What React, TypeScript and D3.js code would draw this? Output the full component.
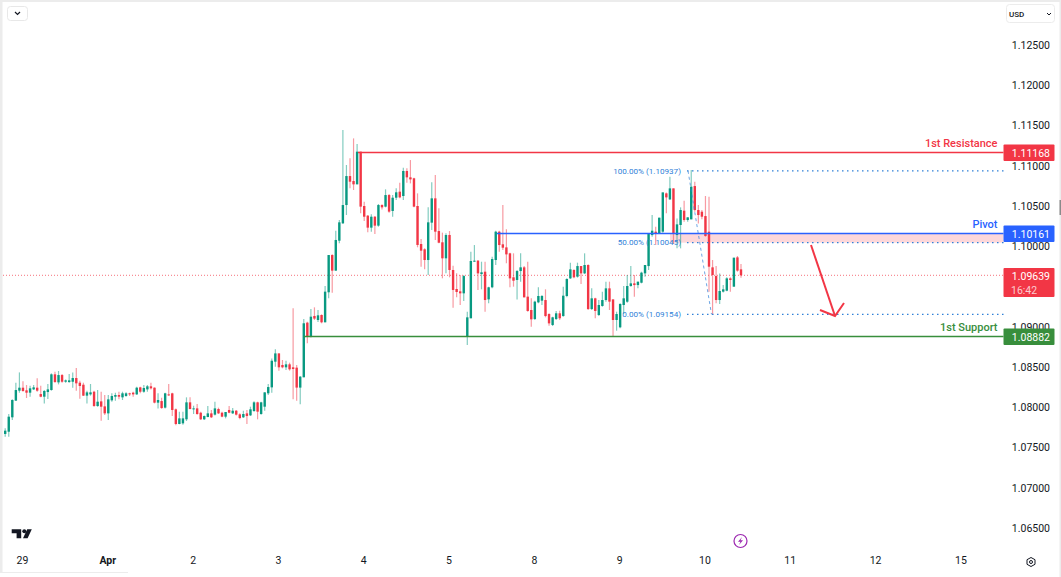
import * as d3 from "d3";
import { useRef, useEffect } from "react";

const width = 1061;
const height = 577;

// hourly candles
const opens = [
  1.07668, 1.07696, 1.07875, 1.08082, 1.08206, 1.08243, 1.08210, 1.08181, 1.08222, 1.08243,
  1.08164, 1.08131, 1.08189, 1.08214, 1.08409, 1.08309, 1.08400, 1.08317, 1.08313, 1.08317,
  1.08363, 1.08305, 1.08280, 1.08144, 1.08160, 1.08193, 1.08015, 1.08073, 1.08011, 1.07924,
  1.08086, 1.08131, 1.08152, 1.08123, 1.08140, 1.08173, 1.08181, 1.08160, 1.08247, 1.08193,
  1.08222, 1.08260, 1.08243, 1.08057, 1.08077, 1.07995, 1.08160, 1.08173, 1.07974, 1.07792,
  1.07800, 1.07850, 1.08061, 1.07974, 1.07986, 1.07932, 1.07850, 1.07879, 1.07924, 1.07908,
  1.07978, 1.07932, 1.07883, 1.07966, 1.07924, 1.07957, 1.07912, 1.07875, 1.07924, 1.07899,
  1.07953, 1.08061, 1.07916, 1.08007, 1.08173, 1.08247, 1.08566, 1.08669, 1.08525, 1.08496,
  1.08533, 1.08496, 1.08492, 1.08244, 1.08372, 1.09051, 1.08877, 1.09134, 1.09084, 1.09146,
  1.09055, 1.09428, 1.09891, 1.09697, 1.10069, 1.10285, 1.10512, 1.10872, 1.10810, 1.10769,
  1.11175, 1.10500, 1.10380, 1.10231, 1.10367, 1.10256, 1.10512, 1.10492, 1.10636, 1.10438,
  1.10603, 1.10678, 1.10624, 1.10935, 1.10856, 1.10844, 1.10500, 1.10028, 1.09962, 1.09829,
  1.10293, 1.10595, 1.10189, 1.10049, 1.09850, 1.10140, 1.09705, 1.09469, 1.09440, 1.09415,
  1.08885, 1.09105, 1.09808, 1.09821, 1.09655, 1.09684, 1.09340, 1.09490, 1.09829, 1.10181,
  1.10024, 1.09986, 1.09912, 1.09614, 1.09581, 1.09692, 1.09738, 1.09374, 1.09208, 1.09096,
  1.09303, 1.09324, 1.09332, 1.09158, 1.09022, 1.09096, 1.09167, 1.09133, 1.09382, 1.09601,
  1.09705, 1.09622, 1.09754, 1.09663, 1.09767, 1.09220, 1.09353, 1.09146, 1.09258, 1.09332,
  1.09477, 1.09340, 1.09084, 1.08993, 1.09270, 1.09311, 1.09506, 1.09539, 1.09518, 1.09547,
  1.09663, 1.09754, 1.10139, 1.10181, 1.10160, 1.10181, 1.10657, 1.10582, 1.10719, 1.10139,
  1.10264, 1.10442, 1.10326, 1.10334, 1.10748, 1.10450, 1.10429, 1.10375, 1.10181, 1.09738,
  1.09630, 1.09332, 1.09436, 1.09448, 1.09601, 1.09498, 1.09862, 1.09713,
];

const highs = [
  1.07738, 1.07916, 1.08098, 1.08305, 1.08433, 1.08322, 1.08276, 1.08268, 1.08276, 1.08359,
  1.08268, 1.08214, 1.08289, 1.08421, 1.08442, 1.08450, 1.08413, 1.08346, 1.08413, 1.08433,
  1.08487, 1.08330, 1.08305, 1.08206, 1.08289, 1.08206, 1.08214, 1.08193, 1.08152, 1.08152,
  1.08173, 1.08181, 1.08193, 1.08193, 1.08185, 1.08181, 1.08193, 1.08255, 1.08255, 1.08276,
  1.08276, 1.08305, 1.08247, 1.08173, 1.08119, 1.08181, 1.08289, 1.08181, 1.07986, 1.07945,
  1.07945, 1.08123, 1.08123, 1.08019, 1.08040, 1.07945, 1.07899, 1.08015, 1.07966, 1.08069,
  1.07995, 1.07945, 1.07941, 1.08015, 1.07990, 1.07966, 1.07924, 1.07957, 1.07966, 1.08007,
  1.08073, 1.08069, 1.08069, 1.08185, 1.08289, 1.08607, 1.08719, 1.08669, 1.08587, 1.08579,
  1.08554, 1.09229, 1.08525, 1.08388, 1.09096, 1.09063, 1.09221, 1.09241, 1.09208, 1.09154,
  1.09506, 1.09891, 1.09900, 1.10194, 1.10326, 1.11444, 1.11009, 1.11092, 1.11340, 1.11270,
  1.11175, 1.10554, 1.10388, 1.10396, 1.10376, 1.10525, 1.10521, 1.10707, 1.10649, 1.10636,
  1.10719, 1.10790, 1.10976, 1.10968, 1.11071, 1.10852, 1.10657, 1.10090, 1.09974, 1.10483,
  1.10794, 1.10885, 1.10471, 1.10169, 1.10160, 1.10189, 1.09759, 1.09664, 1.09643, 1.09643,
  1.09187, 1.09933, 1.10015, 1.09829, 1.09808, 1.09808, 1.09498, 1.09870, 1.10193, 1.10193,
  1.10512, 1.10210, 1.09920, 1.09912, 1.09705, 1.09912, 1.09754, 1.09808, 1.09353, 1.09324,
  1.09490, 1.09394, 1.09465, 1.09167, 1.09125, 1.09196, 1.09200, 1.09498, 1.09601, 1.09796,
  1.09713, 1.09796, 1.09754, 1.09912, 1.09775, 1.09477, 1.09361, 1.09332, 1.09436, 1.09560,
  1.09560, 1.09340, 1.09187, 1.09291, 1.09506, 1.09643, 1.09754, 1.09643, 1.09560, 1.09684,
  1.09767, 1.10152, 1.10388, 1.10243, 1.10355, 1.10669, 1.10669, 1.10864, 1.10719, 1.10346,
  1.10483, 1.10566, 1.10359, 1.10947, 1.10802, 1.10512, 1.10450, 1.10624, 1.10615, 1.09829,
  1.09754, 1.09663, 1.09519, 1.09614, 1.09614, 1.09858, 1.09879, 1.09779,
];

const lows = [
  1.07634, 1.07634, 1.07841, 1.08082, 1.08181, 1.08193, 1.08115, 1.08131, 1.08214, 1.08193,
  1.08123, 1.08048, 1.08102, 1.08206, 1.08305, 1.08284, 1.08305, 1.08305, 1.08305, 1.08243,
  1.08206, 1.08106, 1.08140, 1.08048, 1.08144, 1.08007, 1.08007, 1.07833, 1.07904, 1.07841,
  1.08069, 1.08082, 1.08098, 1.08090, 1.08131, 1.08140, 1.08131, 1.08152, 1.08173, 1.08181,
  1.08193, 1.08222, 1.08048, 1.07986, 1.07982, 1.07986, 1.08140, 1.07891, 1.07775, 1.07788,
  1.07783, 1.07829, 1.07974, 1.07916, 1.07908, 1.07841, 1.07841, 1.07875, 1.07866, 1.07899,
  1.07916, 1.07875, 1.07862, 1.07924, 1.07916, 1.07899, 1.07850, 1.07866, 1.07792, 1.07891,
  1.07945, 1.07850, 1.07908, 1.07957, 1.08152, 1.08181, 1.08504, 1.08454, 1.08484, 1.08463,
  1.08455, 1.08099, 1.08082, 1.08037, 1.08372, 1.08794, 1.08865, 1.09084, 1.09059, 1.09043,
  1.09055, 1.09353, 1.09423, 1.09697, 1.10036, 1.10276, 1.10388, 1.10719, 1.10699, 1.10769,
  1.10409, 1.10314, 1.10173, 1.10181, 1.10152, 1.10243, 1.10458, 1.10483, 1.10417, 1.10367,
  1.10574, 1.10595, 1.10574, 1.10790, 1.10781, 1.10483, 1.09987, 1.09746, 1.09713, 1.09643,
  1.10202, 1.10078, 1.10036, 1.09602, 1.09664, 1.09614, 1.09237, 1.09365, 1.09270, 1.09320,
  1.08773, 1.09105, 1.09808, 1.09456, 1.09465, 1.09187, 1.09291, 1.09477, 1.09767, 1.09933,
  1.09953, 1.09788, 1.09490, 1.09498, 1.09340, 1.09560, 1.09365, 1.09187, 1.09001, 1.09084,
  1.09291, 1.09270, 1.09117, 1.09013, 1.09009, 1.09084, 1.09084, 1.09125, 1.09365, 1.09593,
  1.09601, 1.09610, 1.09531, 1.09655, 1.09208, 1.09208, 1.09105, 1.09133, 1.09249, 1.09312,
  1.09208, 1.08877, 1.08951, 1.08980, 1.09158, 1.09299, 1.09498, 1.09374, 1.09477, 1.09539,
  1.09622, 1.09705, 1.10119, 1.10015, 1.10160, 1.10168, 1.10409, 1.10574, 1.10028, 1.09974,
  1.09974, 1.10305, 1.10305, 1.10334, 1.10429, 1.10284, 1.10334, 1.10119, 1.09436, 1.09146,
  1.09291, 1.09283, 1.09427, 1.09440, 1.09436, 1.09498, 1.09684, 1.09610,
];

const closes = [
  1.07709, 1.07883, 1.08090, 1.08214, 1.08243, 1.08202, 1.08181, 1.08235, 1.08247, 1.08206,
  1.08131, 1.08202, 1.08222, 1.08409, 1.08313, 1.08400, 1.08317, 1.08334, 1.08334, 1.08363,
  1.08297, 1.08264, 1.08144, 1.08185, 1.08185, 1.08015, 1.08069, 1.08007, 1.07924, 1.08098,
  1.08140, 1.08152, 1.08131, 1.08173, 1.08173, 1.08160, 1.08160, 1.08243, 1.08193, 1.08239,
  1.08260, 1.08235, 1.08057, 1.08090, 1.07990, 1.08173, 1.08148, 1.07966, 1.07792, 1.07862,
  1.07862, 1.08061, 1.07978, 1.07986, 1.07916, 1.07850, 1.07891, 1.07924, 1.07875, 1.07986,
  1.07924, 1.07883, 1.07941, 1.07932, 1.07957, 1.07908, 1.07866, 1.07916, 1.07891, 1.07974,
  1.08061, 1.07945, 1.08061, 1.08185, 1.08251, 1.08578, 1.08669, 1.08496, 1.08496, 1.08533,
  1.08471, 1.08475, 1.08244, 1.08380, 1.09043, 1.08877, 1.09125, 1.09101, 1.09142, 1.09055,
  1.09436, 1.09891, 1.09697, 1.10078, 1.10297, 1.10512, 1.10872, 1.10802, 1.10769, 1.11175,
  1.10492, 1.10367, 1.10231, 1.10367, 1.10256, 1.10512, 1.10483, 1.10636, 1.10430, 1.10603,
  1.10670, 1.10607, 1.10935, 1.10856, 1.10831, 1.10492, 1.10016, 1.09945, 1.09829, 1.10297,
  1.10595, 1.10181, 1.10044, 1.09850, 1.10140, 1.09705, 1.09457, 1.09432, 1.09415, 1.09630,
  1.09117, 1.09817, 1.09821, 1.09663, 1.09676, 1.09332, 1.09490, 1.09841, 1.10181, 1.10015,
  1.09982, 1.09899, 1.09601, 1.09572, 1.09692, 1.09738, 1.09365, 1.09196, 1.09092, 1.09312,
  1.09382, 1.09382, 1.09133, 1.09042, 1.09117, 1.09167, 1.09105, 1.09386, 1.09593, 1.09713,
  1.09614, 1.09754, 1.09663, 1.09767, 1.09220, 1.09353, 1.09196, 1.09270, 1.09332, 1.09477,
  1.09312, 1.09084, 1.09158, 1.09283, 1.09353, 1.09506, 1.09539, 1.09518, 1.09560, 1.09672,
  1.09767, 1.10152, 1.10193, 1.10152, 1.10355, 1.10669, 1.10607, 1.10719, 1.10152, 1.10272,
  1.10450, 1.10326, 1.10359, 1.10740, 1.10450, 1.10388, 1.10367, 1.10127, 1.09746, 1.09643,
  1.09332, 1.09444, 1.09465, 1.09601, 1.09581, 1.09858, 1.09697, 1.09639,
];

// 1.09500 sits fully behind the last price badge in the picture
const priceTicks = [
  1.125, 1.12, 1.115, 1.11, 1.105, 1.1, 1.09, 1.085, 1.08, 1.075, 1.07, 1.065,
];

const dayLabels = ["29", "Apr", "2", "3", "4", "5", "8", "9", "10", "11", "12", "15"];
const dayIndex = [5, 29, 53, 77, 101, 125, 149, 173, 197, 221, 245, 269];

const resistance = 1.11168;
const pivot = 1.10161;
const support = 1.08882;
const lastPrice = 1.09639;
const fibLevels = [
  { label: "100.00% (1.10937)", value: 1.10937 },
  { label: "50.00% (1.10045)", value: 1.10045 },
  { label: "0.00% (1.09154)", value: 1.09154 },
];

const GREEN = "#089981";
const RED = "#f23645";
const BLUE = "#2962ff";
const LEVEL_GREEN = "#388e3c";
const FIB = "#2f80d8";
const FONT = "Roboto, 'Noto Sans', sans-serif";

export default function App() {
  const svgRef = useRef<SVGSVGElement>(null);

  useEffect(() => {
    const svg = d3.select(svgRef.current);
    svg.selectAll("*").remove();

    const x = d3.scaleLinear().domain([0, 207]).range([5.2, 741]);
    const y = d3.scaleLinear().domain([1.125, 1.065]).range([45, 528]);
    const axisRight = 1003.5;

    svg.attr("width", width).attr("height", height).attr("viewBox", [0, 0, width, height]);
    svg.append("rect").attr("width", width).attr("height", height).attr("fill", "#fff");

    // pane borders of the screenshot
    const frame = svg.append("g").attr("fill", "#ececec");
    frame.append("rect").attr("width", 2.5).attr("height", 572);
    frame.append("rect").attr("width", width).attr("height", 2);
    frame.append("rect").attr("x", width - 1.5).attr("width", 1.5).attr("height", height);
    frame.append("rect").attr("y", 572).attr("width", 128).attr("height", 1);
    svg.append("rect")
      .attr("x", 1059.5).attr("y", 200).attr("width", 1.5).attr("height", 15)
      .attr("fill", "#8a8a8a");

    // pink zone between pivot and the 50% fib
    svg.append("rect")
      .attr("x", 670)
      .attr("y", y(pivot))
      .attr("width", axisRight - 670)
      .attr("height", y(fibLevels[1].value) - y(pivot))
      .attr("fill", RED)
      .attr("fill-opacity", 0.2);

    // last price line
    svg.append("line")
      .attr("x1", 3).attr("x2", axisRight)
      .attr("y1", y(lastPrice)).attr("y2", y(lastPrice))
      .attr("stroke", RED).attr("stroke-opacity", 0.7)
      .attr("stroke-dasharray", "1 2");

    const idx = d3.range(opens.length);

    const candles = svg.append("g").attr("class", "candles");
    candles.selectAll("line")
      .data(idx)
      .join("line")
        .attr("x1", (i) => x(i))
        .attr("x2", (i) => x(i))
        .attr("y1", (i) => y(highs[i]))
        .attr("y2", (i) => y(lows[i]))
        .attr("stroke", (i) => (closes[i] >= opens[i] ? GREEN : RED))
        .attr("stroke-opacity", 0.5)
        .attr("stroke-width", 1.2);
    candles.selectAll("rect")
      .data(idx)
      .join("rect")
        .attr("x", (i) => x(i) - 1.2)
        .attr("width", 2.4)
        .attr("y", (i) => y(Math.max(opens[i], closes[i])))
        .attr("height", (i) => Math.max(1, Math.abs(y(opens[i]) - y(closes[i]))))
        .attr("fill", (i) => (closes[i] >= opens[i] ? GREEN : RED));

    // fib retracement
    const fib = svg.append("g").attr("class", "fib");
    fib.append("line")
      .attr("x1", 688).attr("y1", y(fibLevels[0].value))
      .attr("x2", 711.5).attr("y2", y(fibLevels[2].value))
      .attr("stroke", FIB).attr("stroke-opacity", 0.7)
      .attr("stroke-dasharray", "3 3");
    fib.selectAll("line.level")
      .data(fibLevels)
      .join("line")
        .attr("class", "level")
        .attr("x1", 687).attr("x2", axisRight)
        .attr("y1", (d) => y(d.value)).attr("y2", (d) => y(d.value))
        .attr("stroke", FIB)
        .attr("stroke-width", 1.3)
        .attr("stroke-dasharray", "1.5 3.5");
    fib.selectAll("text")
      .data(fibLevels)
      .join("text")
        .attr("x", 681)
        .attr("y", (d) => y(d.value))
        .attr("dy", "0.35em")
        .attr("text-anchor", "end")
        .attr("font-family", FONT)
        .attr("font-size", 8.1)
        .attr("fill", FIB)
        .text((d) => d.label);

    // support and resistance levels
    const levels = [
      { name: "1st Resistance", value: resistance, start: 358, color: RED, width: 1.6 },
      { name: "Pivot", value: pivot, start: 497, color: BLUE, width: 1.5 },
      { name: "1st Support", value: support, start: 304, color: LEVEL_GREEN, width: 1.5 },
    ];
    const levelG = svg.append("g").attr("class", "levels");
    levelG.selectAll("line")
      .data(levels)
      .join("line")
        .attr("x1", (d) => d.start).attr("x2", axisRight)
        .attr("y1", (d) => y(d.value) + 0.3).attr("y2", (d) => y(d.value) + 0.3)
        .attr("stroke", (d) => d.color)
        .attr("stroke-width", (d) => d.width);
    levelG.selectAll("text")
      .data(levels)
      .join("text")
        .attr("x", 997.5)
        .attr("y", (d) => y(d.value) - 5)
        .attr("text-anchor", "end")
        .attr("font-family", FONT)
        .attr("font-size", 11)
        .attr("font-weight", 500)
        .attr("fill", (d) => d.color)
        .text((d) => d.name);

    // hand drawn arrow
    svg.append("path")
      .attr("d", d3.line()([[811, 245], [835, 316]]))
      .attr("stroke", RED).attr("stroke-width", 2).attr("fill", "none");
    svg.append("path")
      .attr("d", d3.line()([[820, 310], [835, 316], [844, 303]]))
      .attr("stroke", RED).attr("stroke-width", 2).attr("fill", "none");

    // price axis
    svg.append("g")
      .attr("class", "yaxis")
      .attr("transform", `translate(1050,0)`)
      .call(d3.axisLeft(y).tickValues(priceTicks).tickFormat((d) => d3.format(".5f")(d)).tickSize(0).tickPadding(0))
      .call((g) => g.select(".domain").remove())
      .call((g) => g.selectAll("text")
        .attr("font-family", FONT)
        .attr("font-size", 10.5)
        .attr("fill", "#131722"));

    // price badges
    const badges = [
      { value: resistance, color: RED },
      { value: pivot, color: BLUE },
      { value: support, color: LEVEL_GREEN },
    ];
    const badgeG = svg.append("g").attr("class", "badges");
    badgeG.selectAll("rect")
      .data(badges)
      .join("rect")
        .attr("x", axisRight)
        .attr("y", (d) => y(d.value) - 7.7)
        .attr("width", 51)
        .attr("height", 16.5)
        .attr("rx", 1)
        .attr("fill", (d) => d.color);
    badgeG.selectAll("text")
      .data(badges)
      .join("text")
        .attr("x", 1050)
        .attr("y", (d) => y(d.value) + 0.4)
        .attr("dy", "0.37em")
        .attr("text-anchor", "end")
        .attr("font-family", FONT)
        .attr("font-size", 10.5)
        .attr("fill", "#fff")
        .text((d) => d3.format(".5f")(d.value));

    const last = svg.append("g").attr("class", "last");
    last.append("rect")
      .attr("x", axisRight).attr("y", 268)
      .attr("width", 51).attr("height", 29)
      .attr("rx", 1)
      .attr("fill", RED);
    last.append("text")
      .attr("x", 1050).attr("y", 280)
      .attr("text-anchor", "end")
      .attr("font-family", FONT).attr("font-size", 10.5)
      .attr("fill", "#fff")
      .text(d3.format(".5f")(lastPrice));
    last.append("text")
      .attr("x", 1011).attr("y", 294)
      .attr("font-family", FONT).attr("font-size", 10.5)
      .attr("fill", "#fff").attr("fill-opacity", 0.75)
      .text("16:42");

    // time axis
    const dayAxis = d3.axisBottom(x)
      .tickValues(dayIndex)
      .tickFormat((d, i) => dayLabels[i])
      .tickSize(0)
      .tickPadding(0);
    svg.append("g")
      .attr("class", "xaxis")
      .attr("transform", `translate(-1,557)`)
      .call(dayAxis)
      .call((g) => g.select(".domain").remove())
      .call((g) => g.selectAll("text")
        .attr("font-family", FONT)
        .attr("font-size", 10.5)
        .attr("fill", "#131722")
        .attr("font-weight", (d, i) => (i == 1 ? 700 : 400)));

    // logo
    svg.append("path")
      .attr("d", "M11.7 529.3H21.2V538.3H16.6V533.3H11.7Z M31.8 529.3L27.6 538.3H23L27.2 529.3Z")
      .attr("fill", "#131722");
    svg.append("circle").attr("cx", 24.3).attr("cy", 531.3).attr("r", 2).attr("fill", "#131722");

    // news marker
    svg.append("circle")
      .attr("cx", 740.5).attr("cy", 541).attr("r", 6.5)
      .attr("fill", "#fff").attr("stroke", "#9c27b0").attr("stroke-width", 1.2);
    svg.append("path")
      .attr("d", "M742 537L738 541.7H740.5L739 545L743 540.3H740.5Z")
      .attr("fill", "#9c27b0");

    // gear
    svg.append("path")
      .attr("d", "M1031 557.5L1035 559.7V564.3L1031 566.5L1027 564.3V559.7Z")
      .attr("fill", "none").attr("stroke", "#131722").attr("stroke-width", 1);
    svg.append("circle").attr("cx", 1031).attr("cy", 562).attr("r", 1.5)
      .attr("fill", "none").attr("stroke", "#131722").attr("stroke-width", 1);

    // top buttons
    svg.append("rect")
      .attr("x", 7.5).attr("y", 6.5).attr("width", 20).attr("height", 14).attr("rx", 3)
      .attr("fill", "#fff").attr("stroke", "#e8e8e8");
    svg.append("path")
      .attr("d", "M15 12L17.5 14.5L20 12")
      .attr("fill", "none").attr("stroke", "#131722").attr("stroke-width", 1.2);
    svg.append("rect")
      .attr("x", 1006.5).attr("y", 4.5).attr("width", 48).attr("height", 18).attr("rx", 3)
      .attr("fill", "#fff").attr("stroke", "#ececec");
    svg.append("text")
      .attr("x", 1009).attr("y", 16.5)
      .attr("font-family", FONT).attr("font-size", 8).attr("font-weight", 500)
      .attr("fill", "#131722")
      .text("USD");
    svg.append("path")
      .attr("d", "M1047 13L1049 15L1051 13")
      .attr("fill", "none").attr("stroke", "#131722");
  }, []);

  return <svg ref={svgRef} style={{ position: "absolute", left: 0, top: 0, display: "block" }} />;
}
